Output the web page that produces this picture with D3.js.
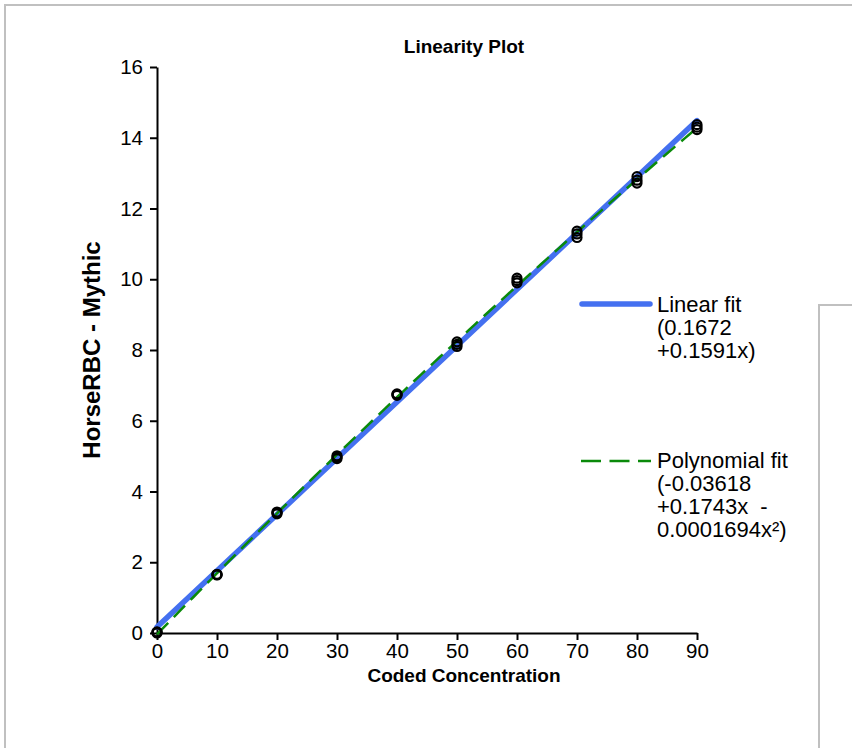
<!DOCTYPE html>
<html><head><meta charset="utf-8">
<script src="https://cdn.jsdelivr.net/npm/d3@7"></script>
<style>body{margin:0;background:#fff;} svg{display:block;font-family:"Liberation Sans",Arial,sans-serif;}</style>
</head><body>
<svg id="c" width="852" height="748"></svg>
<script>
const xValues = [0,0,0,10,10,10,20,20,20,30,30,30,40,40,40,50,50,50,60,60,60,70,70,70,80,80,80,90,90,90];
const yValues = [0.02,0.0,0.03,1.64,1.65,1.66,3.37,3.40,3.42,4.93,4.97,5.01,6.72,6.74,6.76,8.10,8.16,8.23,9.90,9.96,10.03,11.18,11.28,11.36,12.72,12.80,12.90,14.23,14.30,14.37];
const xTicks = [0,10,20,30,40,50,60,70,80,90];
const yTicks = [0,2,4,6,8,10,12,14,16];
const linearCoef = [0.1672, 0.1591];
const polyCoef = [-0.03618, 0.1743, -0.0001694];
const linearLabel = ["Linear fit","(0.1672","+0.1591x)"];
const polyLabel = ["Polynomial fit","(-0.03618","+0.1743x  -","0.0001694x²)"];

const svg = d3.select("#c");
const FONT = "Liberation Sans, Arial, sans-serif";
// panels
svg.append("rect").attr("x",5).attr("y",5).attr("width",900).attr("height",800)
  .attr("fill","none").attr("stroke","#c0c0c0").attr("stroke-width",2);
svg.append("rect").attr("x",819).attr("y",305).attr("width",100).attr("height",500)
  .attr("fill","none").attr("stroke","#c0c0c0").attr("stroke-width",2);

const x = d3.scaleLinear().domain([0,90]).range([157,697]);
const y = d3.scaleLinear().domain([0,16]).range([633,67]);

const xAxis = svg.append("g").attr("transform","translate(0,633)")
  .call(d3.axisBottom(x).tickValues(xTicks).tickSize(7).tickSizeOuter(0).tickPadding(3));
const yAxis = svg.append("g").attr("transform","translate(157,0)")
  .call(d3.axisLeft(y).tickValues(yTicks).tickSize(7).tickSizeOuter(0).tickPadding(7));
[xAxis,yAxis].forEach(a=>{
  a.select(".domain").attr("stroke","#000").attr("stroke-width",2);
  a.selectAll(".tick line").attr("stroke","#000").attr("stroke-width",2);
  a.selectAll(".tick text").attr("font-size",20.5).attr("fill","#000").attr("font-family",FONT);
});

// linear fit
const lin = d => linearCoef[0] + linearCoef[1]*d;
svg.append("line").attr("x1",x(0)).attr("y1",y(lin(0))).attr("x2",x(90)).attr("y2",y(lin(90)))
  .attr("stroke","#4470f0").attr("stroke-width",5.5).attr("stroke-linecap","round");

// poly fit
const poly = d => polyCoef[0] + polyCoef[1]*d + polyCoef[2]*d*d;
const px = d3.range(0, 90.01, 1);
svg.append("path").datum(px)
  .attr("d", d3.line().x(d=>x(d)).y(d=>y(poly(d))))
  .attr("fill","none").attr("stroke","#0a8a0a").attr("stroke-width",2.5).attr("stroke-dasharray","16,8");

// points
svg.append("g").selectAll("circle").data(xValues.map((v,i)=>[v,yValues[i]])).join("circle")
  .attr("cx",d=>x(d[0])).attr("cy",d=>y(d[1])).attr("r",4.5)
  .attr("fill","none").attr("stroke","#000").attr("stroke-width",2.2);

// title & labels
svg.append("text").attr("x",464).attr("y",53).attr("text-anchor","middle")
  .attr("font-size",19).attr("font-weight","bold").text("Linearity Plot");
svg.append("text").attr("x",464).attr("y",682).attr("text-anchor","middle")
  .attr("font-size",19).attr("font-weight","bold").text("Coded Concentration");
svg.append("text").attr("transform","translate(100,350) rotate(-90)").attr("text-anchor","middle")
  .attr("font-size",24).attr("font-weight","bold").text("HorseRBC - Mythic");

// legend
const lg = svg.append("g");
lg.append("line").attr("x1",582).attr("x2",650).attr("y1",304).attr("y2",304)
  .attr("stroke","#4470f0").attr("stroke-width",5.5).attr("stroke-linecap","round");
lg.append("text").attr("x",657).attr("y",312).attr("font-size",22)
  .selectAll("tspan").data(linearLabel).join("tspan").attr("x",657).attr("dy",(d,i)=>i?23:0).text(d=>d);
lg.append("line").attr("x1",581).attr("x2",651).attr("y1",461).attr("y2",461)
  .attr("stroke","#0a8a0a").attr("stroke-width",2.5).attr("stroke-dasharray","20,8.5");
lg.append("text").attr("x",657).attr("y",468).attr("font-size",22)
  .selectAll("tspan").data(polyLabel).join("tspan").attr("x",657).attr("dy",(d,i)=>i?23:0).attr("xml:space","preserve").text(d=>d);
</script>
</body></html>
